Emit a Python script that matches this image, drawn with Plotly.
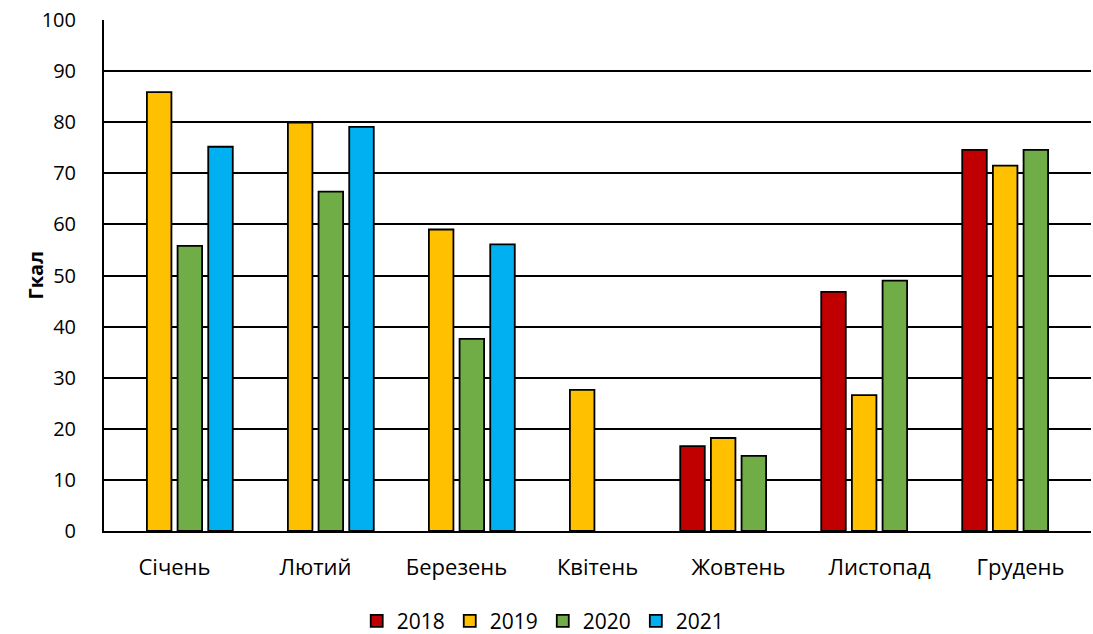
import plotly.graph_objects as go

months = ["Січень", "Лютий", "Березень", "Квітень", "Жовтень", "Листопад", "Грудень"]
years = ["2018", "2019", "2020", "2021"]

v2018 = [None, None, None, None, 16.6, 46.8, 74.6]
v2019 = [85.9, 79.9, 59.0, 27.6, 18.2, 26.6, 71.5]
v2020 = [55.8, 66.4, 37.6, None, 14.7, 49.0, 74.6]
v2021 = [75.2, 79.1, 56.1, None, None, None, None]

colors = ["#C00000", "#FFC000", "#70AD47", "#00B0F0"]
font_family = "Open Sans, Liberation Sans, sans-serif"

fig = go.Figure()
for name, vals, col in zip(years, [v2018, v2019, v2020, v2021], colors):
    fig.add_trace(go.Bar(
        x=months, y=vals, name=name,
        marker=dict(color=col, line=dict(color="black", width=1.8)),
    ))

fig.update_layout(
    width=1093, height=634,
    margin=dict(l=104, r=2, t=20, b=103, autoexpand=False),
    paper_bgcolor="white", plot_bgcolor="white",
    barmode="group", bargap=0.13, bargroupgap=0.2,
    font=dict(family=font_family, size=20, color="black"),
    showlegend=True,
    legend=dict(orientation="h", xref="container", yref="container",
                x=0.497, xanchor="center", y=0.02, yanchor="middle",
                font=dict(size=21), itemwidth=30, traceorder="normal",
                tracegroupgap=0),
    xaxis=dict(showline=True, linecolor="black", linewidth=2, showgrid=False,
               ticks="", ticklabelstandoff=16, tickfont=dict(size=22)),
    yaxis=dict(range=[0, 100], dtick=10, showgrid=True, gridcolor="black", gridwidth=1.5,
               showline=True, linecolor="black", linewidth=2, zeroline=False,
               ticks="", ticklabelstandoff=22, tickfont=dict(size=20)),
    annotations=[dict(text="<b>Гкал</b>", xref="paper", yref="paper",
                      x=-(104 - 35) / 987, y=0.5, textangle=-90, showarrow=False,
                      xanchor="center", yanchor="middle", font=dict(size=20))],
)

fig.write_html("out.html")
